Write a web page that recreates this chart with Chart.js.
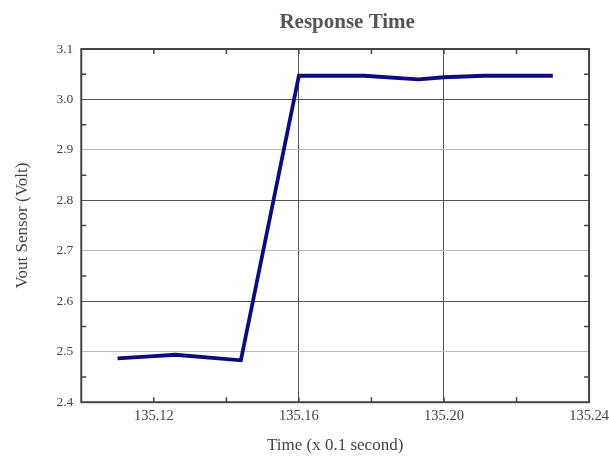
<!DOCTYPE html>
<html>
<head>
<meta charset="utf-8">
<script src="https://cdn.jsdelivr.net/npm/chart.js@4.4.1/dist/chart.umd.min.js"></script>
<style>
  html, body { margin: 0; padding: 0; background: #fff; }
  #wrap { width: 609px; height: 456px; }
</style>
</head>
<body>
<div id="wrap"><canvas id="response-chart" width="609" height="456"></canvas></div>
<script>
// data
const timeValues = [135.110, 135.119, 135.126, 135.144, 135.160, 135.178, 135.193, 135.200, 135.211, 135.230];
const voutValues = [2.487, 2.491, 2.494, 2.483, 3.047, 3.047, 3.040, 3.044, 3.047, 3.047];
const xTickLabels = [135.12, 135.16, 135.20, 135.24];
const xGridAt = [135.16, 135.20];
const xMinorTicks = [135.12, 135.14, 135.16, 135.18, 135.20, 135.22];
const yTickLabels = [2.4, 2.5, 2.6, 2.7, 2.8, 2.9, 3.0, 3.1];
const chartTitle = "Response Time";

const serif = "'Liberation Serif', 'Times New Roman', serif";

// frame on all four sides, small inward ticks and the title
const framePlugin = {
  id: "frame",
  afterDatasetsDraw(chart) {
    const { ctx, chartArea: a, scales } = chart;
    ctx.save();
    ctx.strokeStyle = "#444";
    ctx.lineWidth = 2;
    ctx.strokeRect(a.left, a.top, a.right - a.left, a.bottom - a.top);
    ctx.lineWidth = 1.5;
    ctx.beginPath();
    xMinorTicks.forEach(v => {
      const px = scales.x.getPixelForValue(v);
      ctx.moveTo(px, a.bottom); ctx.lineTo(px, a.bottom - 5);
      ctx.moveTo(px, a.top); ctx.lineTo(px, a.top + 5);
    });
    for (let v = 2.45; v < 3.1; v += 0.1) {
      const py = scales.y.getPixelForValue(v);
      ctx.moveTo(a.left, py); ctx.lineTo(a.left + 5, py);
      ctx.moveTo(a.right, py); ctx.lineTo(a.right - 5, py);
    }
    ctx.stroke();

    ctx.fillStyle = "#555";
    ctx.font = "bold 21px " + serif;
    ctx.textAlign = "center";
    ctx.textBaseline = "alphabetic";
    ctx.fillText(chartTitle, (a.left + a.right) / 2 + 12, 28);
    ctx.restore();
  },
};

const ctx = document.querySelector("#response-chart").getContext("2d");

const responseChart = new Chart(ctx, {
  type: "line",
  data: {
    datasets: [
      {
        label: "Vout",
        data: timeValues.map((t, i) => ({ x: t, y: voutValues[i] })),
        borderColor: "#0c0c7e",
        borderWidth: 3.8,
        pointRadius: 0,
        tension: 0,
        fill: false,
      },
    ],
  },
  options: {
    responsive: false,
    animation: false,
    layout: { padding: { left: 12, right: 17, top: 49, bottom: 0 } },
    plugins: {
      legend: { display: false },
      tooltip: { enabled: false },
      title: { display: false },
    },
    scales: {
      x: {
        type: "linear",
        min: 135.10,
        max: 135.24,
        afterBuildTicks(scale) {
          scale.ticks = xTickLabels.map(v => ({ value: v }));
        },
        ticks: {
          color: "#444",
          font: { family: serif, size: 14.5 },
          padding: 0,
          maxRotation: 0,
          callback: v => v.toFixed(2),
        },
        grid: {
          drawTicks: true,
          tickLength: 5,
          tickColor: "rgba(0,0,0,0)",
          color: c => (c.tick && xGridAt.includes(+c.tick.value.toFixed(2)) ? "#555" : "rgba(0,0,0,0)"),
          lineWidth: 1,
        },
        border: { display: false },
        title: {
          display: true,
          text: "Time (x 0.1 second)",
          color: "#444",
          font: { family: serif, size: 17 },
          padding: { top: 11, bottom: 0 },
        },
      },
      y: {
        type: "linear",
        min: 2.4,
        max: 3.1,
        afterBuildTicks(scale) {
          scale.ticks = yTickLabels.map(v => ({ value: v }));
        },
        ticks: {
          color: "#444",
          font: { family: serif, size: 13.5 },
          padding: 8,
          callback: v => v.toFixed(1),
        },
        grid: {
          drawTicks: false,
          color: c => {
            if (!c.tick) return "rgba(0,0,0,0)";
            const k = Math.round(c.tick.value * 10);
            return k % 2 === 0 ? "#555" : "#bbb";
          },
          lineWidth: 1,
        },
        border: { display: false },
        title: {
          display: true,
          text: "Vout Sensor (Volt)",
          color: "#444",
          font: { family: serif, size: 17 },
          padding: { top: 0, bottom: 16 },
        },
      },
    },
  },
  plugins: [framePlugin],
});
</script>
</body>
</html>
